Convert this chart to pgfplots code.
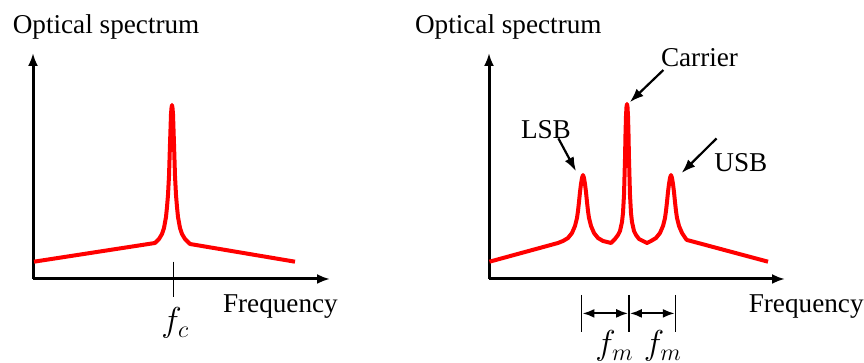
\documentclass[border=0pt]{standalone}
\usepackage{fontspec}
\setmainfont{Liberation Serif}
\usepackage{pgfplots}
\pgfplotsset{compat=1.18}
\usetikzlibrary{arrows.meta}
\begin{document}
\begin{tikzpicture}
\useasboundingbox (0,0) rectangle (432pt,181.5pt);
\pgfplotsset{spec/.style={
  x=0.5pt, y=0.5pt, xmin=0, ymin=0, ymax=226,
  enlargelimits=false,
  axis lines=left, xtick=\empty, ytick=\empty,
  axis line style={line width=1.5pt, -{Latex[length=6.5pt,width=5pt]}},
  clip=false, anchor=south west,
}}
% Left panel: single carrier
\begin{axis}[spec, xmax=297, at={(16.5pt,42pt)}]
\addplot[red, line width=2pt, line join=round, no markers] coordinates {
(1,17.3) (122,36) (126,40) (129,45) (131,51) (133,62) (134,72) (135,84)
(136,103) (137,135) (138,165) (138.5,171) (139,174) (139.5,171) (140,165)
(141,135) (142,103) (143,84) (144,72) (145,62) (147,51) (149,45) (152,40)
(157,35) (262,17.3)
};
\end{axis}
% Right panel: carrier with sidebands
\begin{axis}[spec, xmax=296, at={(244.5pt,42pt)}]
\addplot[red, line width=2pt, line join=round, no markers] coordinates {
(0.5,17.3) (69,36) (74,38) (79,41) (83,46) (86,53) (88,61) (89,68) (90,77)
(91,87) (92,95) (93,101) (94,104) (95,101) (96,95) (97,87) (98,77) (99,68)
(100,61) (102,53) (105,46) (109,41) (114,38) (122,36)
(126,40) (129,44) (131,48) (133,57) (134,66) (135,84) (136,120) (136.5,145)
(137,163) (137.5,172) (138,175) (138.5,172) (139,163) (139.5,145) (140,120)
(141,84) (142,66) (143,57) (145,48) (147,44) (150,40) (158,36)
(162,38) (167,41) (171,46) (174,53) (176,61) (177,68) (178,77) (179,87)
(180,95) (181,101) (182,104) (183,101) (184,95) (185,87) (186,77) (187,68)
(188,61) (190,53) (193,46) (197,40) (198,39) (279,17.3)
};
\end{axis}
% Texts
\fontsize{13.6}{16}\selectfont
\node[anchor=base west, inner sep=0pt] at (6.2pt,164.8pt) {Optical spectrum};
\node[anchor=base east, inner sep=0pt] at (301pt,164.8pt) {Optical spectrum};
\node[anchor=base west, inner sep=0pt] at (111.3pt,25pt) {Frequency};
\node[anchor=base west, inner sep=0pt] at (374.2pt,25pt) {Frequency};
\node[anchor=base west, inner sep=0pt] at (330.3pt,148.2pt) {Carrier};
\node[anchor=base west, inner sep=0pt] at (260.3pt,112.3pt) {LSB};
\node[anchor=base west, inner sep=0pt] at (357pt,95.7pt) {USB};
% annotation arrows
\draw[line width=1.1pt, -{Latex[length=7pt,width=5pt]}] (331.7pt,146.5pt) -- (314.9pt,130.4pt);
\draw[line width=1.1pt, -{Latex[length=7pt,width=5pt]}] (279.2pt,112.3pt) -- (288pt,95.9pt);
\draw[line width=1.1pt, -{Latex[length=7pt,width=5pt]}] (358.3pt,112.3pt) -- (340.8pt,95pt);
% f_c tick
\draw[line width=0.7pt] (86.6pt,50.7pt) -- (86.6pt,33.2pt);
\node[anchor=base west, inner sep=0pt] at (80.5pt,15.5pt)
  {\fontsize{18.5}{20}\selectfont$f_c$};
% f_m markers
\draw[line width=0.7pt] (290.8pt,34pt) -- (290.8pt,15.5pt);
\draw[line width=0.7pt] (314.5pt,34pt) -- (314.5pt,15.5pt);
\draw[line width=0.7pt] (337.8pt,34pt) -- (337.8pt,15.5pt);
\draw[line width=1.1pt, {Latex[length=6pt,width=4.5pt]}-{Latex[length=6pt,width=4.5pt]}] (291.2pt,24.8pt) -- (314.1pt,24.8pt);
\draw[line width=1.1pt, {Latex[length=6pt,width=4.5pt]}-{Latex[length=6pt,width=4.5pt]}] (314.9pt,24.8pt) -- (337.4pt,24.8pt);
\node[anchor=base west, inner sep=0pt] at (297.5pt,4pt)
  {\fontsize{18.5}{20}\selectfont$f_m$};
\node[anchor=base west, inner sep=0pt] at (321.7pt,4pt)
  {\fontsize{18.5}{20}\selectfont$f_m$};
\end{tikzpicture}
\end{document}
